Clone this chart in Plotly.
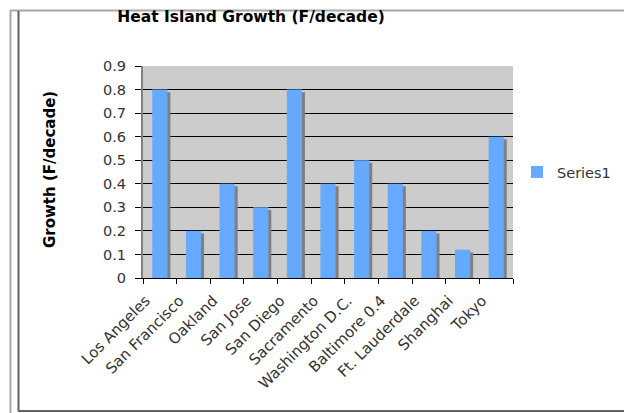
import plotly.graph_objects as go

# Heat island growth rates by city (°F per decade)
cities = ["Los Angeles", "San Francisco", "Oakland", "San Jose", "San Diego",
          "Sacramento", "Washington D.C.", "Baltimore 0.4", "Ft. Lauderdale",
          "Shanghai", "Tokyo"]
growth = [0.8, 0.2, 0.4, 0.3, 0.8, 0.4, 0.5, 0.4, 0.2, 0.12, 0.6]
y_ticks = [0, 0.1, 0.2, 0.3, 0.4, 0.5, 0.6, 0.7, 0.8, 0.9]

W, H = 624, 413
L, R, T, B = 143, 111, 66, 135
PW, PH = W - L - R, H - T - B


def px(x):
    return (x - L) / PW


def py(y):
    return (H - B - y) / PH


FONT = "DejaVu Sans"
BAR_W = 0.45
SHADOW_DX = 0.09      # category units
SHADOW_DY = 0.011     # value units

fig = go.Figure()

# drop shadow behind each bar
fig.add_trace(go.Bar(
    x=cities, y=growth, base=-SHADOW_DY,
    width=BAR_W, offset=-BAR_W / 2 + SHADOW_DX,
    marker=dict(color="#808080", line=dict(width=0)),
    showlegend=False, hoverinfo="skip",
))
fig.add_trace(go.Bar(
    x=cities, y=growth, name="Series1",
    width=BAR_W, offset=-BAR_W / 2,
    marker=dict(color="#66AAFF", line=dict(width=0)),
))

frame = [
    # outer light frame
    dict(x0=px(10.5), x1=px(10.5), y0=py(413), y1=py(10), color="#A8A8A8", w=2),
    dict(x0=px(10), x1=px(624), y0=py(10.5), y1=py(10.5), color="#A8A8A8", w=2),
    # inner dark frame
    dict(x0=px(18.5), x1=px(18.5), y0=py(11), y1=py(411), color="#606060", w=2),
    dict(x0=px(18), x1=px(624), y0=py(411), y1=py(411), color="#606060", w=2),
]
shapes = [
    dict(type="line", xref="paper", yref="paper",
         x0=f["x0"], x1=f["x1"], y0=f["y0"], y1=f["y1"],
         line=dict(color=f["color"], width=f["w"]))
    for f in frame
]

fig.update_layout(
    width=W, height=H,
    margin=dict(l=L, r=R, t=T, b=B, autoexpand=False),
    paper_bgcolor="white",
    plot_bgcolor="#CCCCCC",
    barmode="overlay",
    font=dict(family=FONT, size=14, color="#333333"),
    title=dict(
        text="<b>Heat Island Growth (F/decade)</b>",
        x=251 / W, xanchor="center",
        y=1 - 17 / H, yanchor="middle",
        font=dict(family=FONT, size=15.5, color="black"),
    ),
    xaxis=dict(
        type="category", tickangle=-45,
        showline=True, linecolor="black", linewidth=1,
        ticks="outside", tickson="boundaries", ticklen=5,
        tickcolor="black", showgrid=False,
        tickfont=dict(size=15, color="#333333"),
        ticklabelstandoff=7, ticklabelshift=-14,
        range=[-0.5, len(cities) - 0.5],
    ),
    yaxis=dict(
        range=[0, 0.9], tickvals=y_ticks,
        ticktext=[f"{v:g}" for v in y_ticks],
        showline=True, linecolor="#808080", linewidth=2,
        ticks="outside", ticklen=6, tickcolor="black",
        ticklabelstandoff=6,
        showgrid=False, zeroline=False,
        minor=dict(tickvals=y_ticks[1:-1], showgrid=True,
                   gridcolor="black", gridwidth=1, ticks=""),
        tickfont=dict(size=14.5, color="#333333"),
    ),
    legend=dict(
        x=px(517), xanchor="left", y=py(172), yanchor="middle",
        font=dict(family=FONT, size=14.5, color="#333333"),
        bgcolor="rgba(0,0,0,0)",
    ),
    shapes=shapes,
    annotations=[dict(
        text="<b>Growth (F/decade)</b>", textangle=-90,
        xref="paper", yref="paper", x=px(50), y=py(170),
        xanchor="center", yanchor="middle", showarrow=False,
        font=dict(family=FONT, size=15, color="black"),
    )],
)

fig.write_html("out.html")
